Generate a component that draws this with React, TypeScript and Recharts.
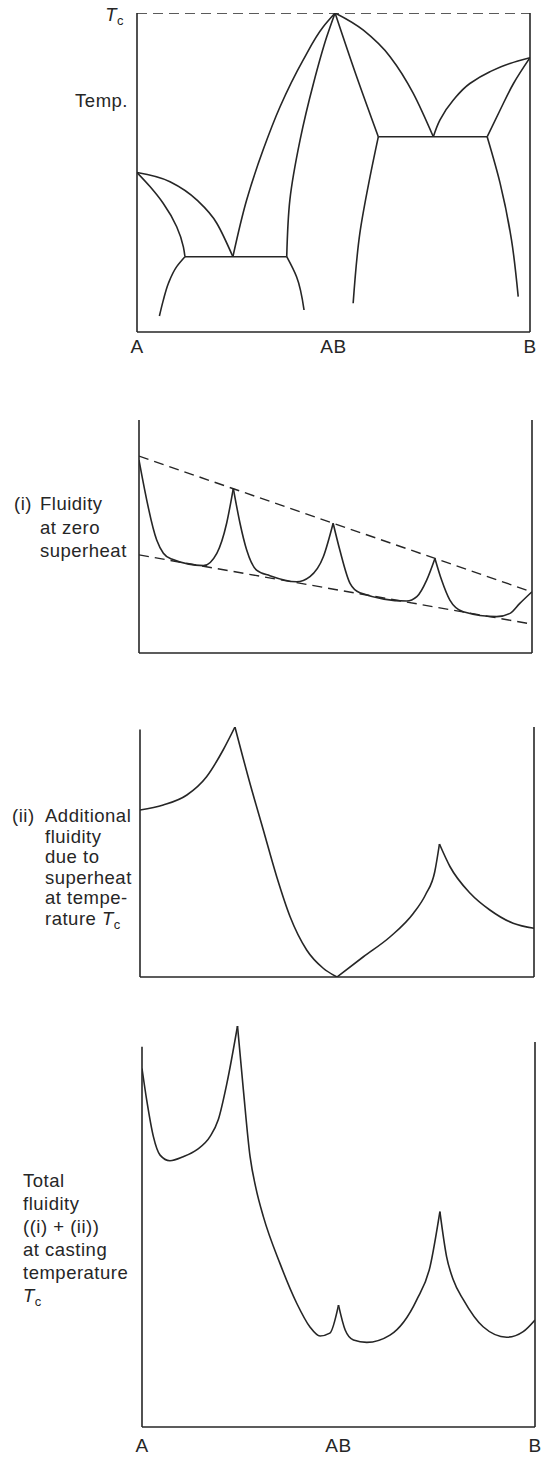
import { LineChart, Line, XAxis, YAxis, ReferenceLine } from 'recharts'

type Pt = { x: number; y: number }

const FONT = '"Liberation Sans", Arial, Helvetica, sans-serif'
const INK = '#262626'

// composition axis, A = 0, AB = 50, B = 100
const COMP_TICKS = [0, 50, 100]
const COMP_LABELS = ['A', 'AB', 'B']

// --- phase diagram (temperature, Tc = 100) ---
const tcLine: Pt[] = [{ x: 0, y: 100 }, { x: 100, y: 100 }]
const liquidusA: Pt[] = [
  { x: 0, y: 50 }, { x: 8.4, y: 47.1 }, { x: 15.2, y: 41.4 }, { x: 20.3, y: 34.1 }, { x: 24.4, y: 23.6 },
]
const solidusA: Pt[] = [
  { x: 0, y: 50 }, { x: 3.3, y: 45.6 }, { x: 6.7, y: 40.3 }, { x: 10.1, y: 33 }, { x: 11.8, y: 26.7 }, { x: 12.2, y: 23.6 },
]
const solvusA: Pt[] = [
  { x: 5.7, y: 5 }, { x: 6.7, y: 10 }, { x: 8, y: 15.3 }, { x: 10.1, y: 20.5 }, { x: 12.2, y: 23.6 },
]
const eutecticA: Pt[] = [{ x: 12.2, y: 23.6 }, { x: 38.1, y: 23.6 }]
const liquidusABLeft: Pt[] = [
  { x: 24.4, y: 23.6 }, { x: 27.9, y: 41.4 }, { x: 32.1, y: 57.1 }, { x: 36.4, y: 70.6 },
  { x: 42.3, y: 85.3 }, { x: 47.4, y: 95.7 }, { x: 50.4, y: 100 },
]
const solidusABLeft: Pt[] = [
  { x: 38.1, y: 23.6 }, { x: 38.9, y: 41.4 }, { x: 41.5, y: 60.2 }, { x: 44.9, y: 77.9 },
  { x: 48.3, y: 92.6 }, { x: 50.4, y: 100 },
]
const solvusABLeft: Pt[] = [{ x: 42.5, y: 6.9 }, { x: 40.6, y: 17.3 }, { x: 38.1, y: 23.6 }]
const liquidusABRight: Pt[] = [
  { x: 50.4, y: 100 }, { x: 57.6, y: 94.6 }, { x: 64.4, y: 86.3 }, { x: 70.3, y: 74.8 }, { x: 75.4, y: 61.2 },
]
const solidusABRight: Pt[] = [{ x: 61.4, y: 61.2 }, { x: 55.9, y: 80 }, { x: 50.4, y: 100 }]
const eutecticB: Pt[] = [{ x: 61.4, y: 61.2 }, { x: 89.1, y: 61.2 }]
const solvusABRight: Pt[] = [
  { x: 55, y: 9 }, { x: 56.7, y: 30.9 }, { x: 59.3, y: 48.7 }, { x: 61.4, y: 61.2 },
]
const liquidusB: Pt[] = [
  { x: 75.4, y: 61.2 }, { x: 77.1, y: 66.5 }, { x: 80.5, y: 72.7 }, { x: 84.7, y: 77.9 },
  { x: 89.8, y: 81.6 }, { x: 94.9, y: 84.2 }, { x: 100, y: 86 },
]
const solidusB: Pt[] = [
  { x: 89.1, y: 61.2 }, { x: 92.4, y: 69.6 }, { x: 95.8, y: 77.9 }, { x: 100, y: 86 },
]
const solvusB: Pt[] = [
  { x: 97, y: 11.1 }, { x: 95.3, y: 28.8 }, { x: 92.4, y: 46.6 }, { x: 89.1, y: 61.2 },
]

// --- (i) fluidity at zero superheat ---
const zeroUpper: Pt[] = [{ x: 0, y: 84.5 }, { x: 100, y: 26.2 }]
const zeroLower: Pt[] = [{ x: 0, y: 42.1 }, { x: 100, y: 12.4 }]
const zeroSeg1: Pt[] = [
  { x: 0, y: 82.8 }, { x: 4.5, y: 48.5 }, { x: 6.2, y: 42.8 }, { x: 8.3, y: 40.3 },
  { x: 16.4, y: 37.5 }, { x: 19.8, y: 42.8 }, { x: 22.3, y: 55.7 }, { x: 24, y: 70.7 },
]
const zeroSeg2: Pt[] = [
  { x: 24, y: 70.7 }, { x: 25.7, y: 55.7 }, { x: 27.4, y: 44.2 }, { x: 29.9, y: 35.6 }, { x: 33.3, y: 33.2 },
  { x: 40.1, y: 30.6 }, { x: 43.5, y: 32.8 }, { x: 46.9, y: 41.3 }, { x: 49.4, y: 55.7 },
]
const zeroSeg3: Pt[] = [
  { x: 49.4, y: 55.7 }, { x: 51.1, y: 44.2 }, { x: 53.7, y: 29.9 }, { x: 56.2, y: 25.9 }, { x: 68.1, y: 22.3 },
  { x: 70.7, y: 24.2 }, { x: 73.2, y: 31.3 }, { x: 75.3, y: 40.6 },
]
const zeroSeg4: Pt[] = [
  { x: 75.3, y: 40.6 }, { x: 77, y: 31.3 }, { x: 79.1, y: 22.7 }, { x: 82.5, y: 17.7 }, { x: 91, y: 15.6 },
  { x: 94.4, y: 17 }, { x: 96.9, y: 21.3 }, { x: 100, y: 26.3 },
]

// --- (ii) additional fluidity due to superheat ---
const extraSeg1: Pt[] = [
  { x: 0, y: 66.8 }, { x: 5.9, y: 68.8 }, { x: 11.9, y: 72.8 }, { x: 16.9, y: 80.1 }, { x: 21.1, y: 90.8 }, { x: 24.1, y: 100 },
]
const extraSeg2: Pt[] = [
  { x: 24.1, y: 100 }, { x: 27.9, y: 77.5 }, { x: 31.3, y: 58.8 }, { x: 34.7, y: 40.1 },
  { x: 38.1, y: 24.1 }, { x: 42.3, y: 10.8 }, { x: 46.5, y: 3.5 }, { x: 50, y: 0 },
]
const extraSeg3: Pt[] = [
  { x: 50, y: 0 }, { x: 56.7, y: 8.1 }, { x: 63.5, y: 16.1 }, { x: 69.4, y: 25.5 },
  { x: 72.5, y: 33 }, { x: 74.8, y: 42 }, { x: 76, y: 53.2 },
]
const extraSeg4: Pt[] = [
  { x: 76, y: 53.2 }, { x: 78.7, y: 44.1 }, { x: 83.8, y: 33.5 }, { x: 88.8, y: 26.8 }, { x: 94.7, y: 21.5 }, { x: 100, y: 19.5 },
]

// --- total fluidity ---
const totalSeg1: Pt[] = [
  { x: 0, y: 89.4 }, { x: 1.2, y: 81.5 }, { x: 2.9, y: 72.4 }, { x: 4.6, y: 67.8 }, { x: 7.1, y: 66.4 },
  { x: 10.5, y: 67.4 }, { x: 13.9, y: 69.1 }, { x: 17.3, y: 72.4 }, { x: 19.4, y: 76.6 }, { x: 21.6, y: 85.7 }, { x: 24.3, y: 100 },
]
const totalSeg2: Pt[] = [
  { x: 24.3, y: 100 }, { x: 25.8, y: 84 }, { x: 27.5, y: 67.4 }, { x: 29, y: 59.5 }, { x: 30.9, y: 52.4 }, { x: 35.1, y: 40.8 },
  { x: 39.4, y: 30.8 }, { x: 42.7, y: 25 }, { x: 45.3, y: 22.7 }, { x: 47.8, y: 23.4 }, { x: 50, y: 30.4 },
]
const totalSeg3: Pt[] = [
  { x: 50, y: 30.4 }, { x: 51.7, y: 24.2 }, { x: 53.8, y: 21.7 }, { x: 57.2, y: 21.1 }, { x: 63.1, y: 22.9 },
  { x: 69.9, y: 31.7 }, { x: 73.3, y: 40 }, { x: 75.8, y: 53.7 },
]
const totalSeg4: Pt[] = [
  { x: 75.8, y: 53.7 }, { x: 77.5, y: 42.5 }, { x: 79.2, y: 36.7 }, { x: 81.8, y: 31.7 }, { x: 86.8, y: 25 },
  { x: 92.8, y: 22.4 }, { x: 97, y: 23.8 }, { x: 100, y: 26.7 },
]

interface PanelProps {
  top: number
  height: number
  margin: { top: number; right: number; bottom: number; left: number }
  yMax: number
  curves?: Pt[][] // smooth in x
  steep?: Pt[][] // smooth in y (near-vertical boundaries)
  straight?: Pt[][]
  dashed?: Pt[][]
  leftTop: number
  rightTop: number
  showTicks?: boolean
  tickMargin?: number
}

function Panel({
  top, height, margin, yMax, curves = [], steep = [], straight = [], dashed = [],
  leftTop, rightTop, showTicks, tickMargin = 8,
}: PanelProps) {
  const stroke = { stroke: INK, strokeWidth: 1.6 }
  return (
    <div style={{ position: 'absolute', left: 0, top }}>
      <LineChart width={553} height={height} margin={margin}>
        <XAxis
          type="number"
          dataKey="x"
          domain={[0, 100]}
          ticks={COMP_TICKS}
          interval={0}
          allowDataOverflow
          tickFormatter={(v: number) => COMP_LABELS[COMP_TICKS.indexOf(v)] ?? ''}
          tick={showTicks ? { fill: INK, fontSize: 19, fontFamily: FONT, letterSpacing: 0.5 } : false}
          tickLine={false}
          tickSize={0}
          tickMargin={tickMargin}
          axisLine={{ stroke: INK, strokeWidth: 1.6 }}
          height={30}
        />
        <YAxis type="number" domain={[0, yMax]} allowDataOverflow hide />
        <ReferenceLine segment={[{ x: 0, y: 0 }, { x: 0, y: leftTop }]} {...stroke} />
        <ReferenceLine segment={[{ x: 100, y: 0 }, { x: 100, y: rightTop }]} {...stroke} />
        {dashed.map((d, i) => (
          <Line key={`d${i}`} data={d} dataKey="y" type="linear" stroke={INK} strokeWidth={1.4}
            strokeDasharray="10 6" dot={false} activeDot={false} isAnimationActive={false} />
        ))}
        {straight.map((d, i) => (
          <Line key={`s${i}`} data={d} dataKey="y" type="linear" {...stroke}
            dot={false} activeDot={false} isAnimationActive={false} />
        ))}
        {curves.map((d, i) => (
          <Line key={`c${i}`} data={d} dataKey="y" type="monotoneX" {...stroke}
            dot={false} activeDot={false} isAnimationActive={false} />
        ))}
        {steep.map((d, i) => (
          <Line key={`v${i}`} data={d} dataKey="y" type="monotoneY" {...stroke}
            dot={false} activeDot={false} isAnimationActive={false} />
        ))}
      </LineChart>
    </div>
  )
}

const labelStyle = {
  position: 'absolute' as const,
  fontFamily: FONT,
  fontSize: 18.5,
  letterSpacing: 0.5,
  color: INK,
  whiteSpace: 'nowrap' as const,
}

const Tc = () => (
  <span>
    <i>T</i>
    <span style={{ fontSize: '0.7em', verticalAlign: '-0.3em', lineHeight: 0 }}>c</span>
  </span>
)

export default function App() {
  return (
    <div style={{ position: 'absolute', left: 0, top: 0, width: 553, height: 1457, background: '#fff' }}>
      <Panel
        top={0}
        height={370}
        margin={{ top: 13, right: 23, bottom: 8, left: 137 }}
        yMax={100}
        curves={[liquidusA, liquidusABRight]}
        steep={[solidusA, solvusA, liquidusABLeft, solidusABLeft, solvusABLeft,
          solidusABRight, solvusABRight, liquidusB, solidusB, solvusB]}
        straight={[eutecticA, eutecticB]}
        dashed={[tcLine]}
        leftTop={100}
        rightTop={100}
        showTicks
        tickMargin={8}
      />
      <Panel
        top={400}
        height={290}
        margin={{ top: 20, right: 21, bottom: 7, left: 139 }}
        yMax={100}
        curves={[zeroSeg1, zeroSeg2, zeroSeg3, zeroSeg4]}
        dashed={[zeroUpper, zeroLower]}
        leftTop={100}
        rightTop={100}
      />
      <Panel
        top={700}
        height={310}
        margin={{ top: 27, right: 19, bottom: 3, left: 140 }}
        yMax={100}
        curves={[extraSeg1, extraSeg2, extraSeg3, extraSeg4]}
        leftTop={99}
        rightTop={100}
      />
      <Panel
        top={1010}
        height={447}
        margin={{ top: 16, right: 18, bottom: 0, left: 142 }}
        yMax={100}
        curves={[totalSeg1, totalSeg2, totalSeg3, totalSeg4]}
        leftTop={94.8}
        rightTop={96}
        showTicks
        tickMargin={12}
      />

      <div style={{ ...labelStyle, left: 0, width: 124, textAlign: 'right', top: 3, lineHeight: '23px' }}><Tc /></div>
      <div style={{ ...labelStyle, left: 0, width: 128, textAlign: 'right', top: 89, lineHeight: '23px' }}>Temp.</div>

      <div style={{ ...labelStyle, left: 14, top: 492, lineHeight: '23.5px' }}>(i)</div>
      <div style={{ ...labelStyle, left: 40, top: 492, lineHeight: '23.5px' }}>
        Fluidity<br />at zero<br />superheat
      </div>

      <div style={{ ...labelStyle, left: 12, top: 806, lineHeight: '20.5px' }}>(ii)</div>
      <div style={{ ...labelStyle, left: 45, top: 806, lineHeight: '20.5px' }}>
        Additional<br />fluidity<br />due to<br />superheat<br />at tempe-<br />rature <Tc />
      </div>

      <div style={{ ...labelStyle, left: 23, top: 1169, lineHeight: '23px' }}>
        Total<br />fluidity<br />((i) + (ii))<br />at casting<br />temperature<br /><Tc />
      </div>
    </div>
  )
}
